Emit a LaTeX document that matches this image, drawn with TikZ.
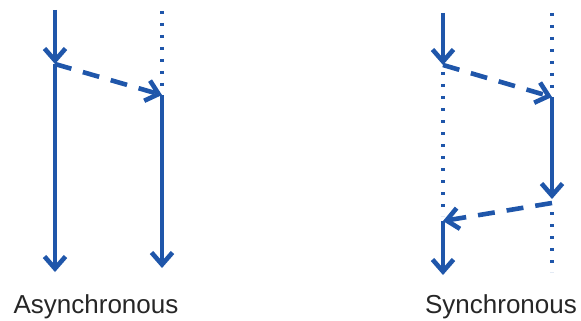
\documentclass[tikz,border=0pt]{standalone}
\usepackage{fontspec}
\setmainfont{Liberation Sans}
\usetikzlibrary{arrows.meta}
\definecolor{flowblue}{RGB}{31,86,170}
\tikzset{
  msgtip/.style={-{Straight Barb[length=12pt,width=21pt,line width=4.6pt]}},
  solidflow/.style={flowblue, line width=4.6pt, msgtip},
  dashflow/.style={flowblue, line width=4.6pt, dash pattern=on 17pt off 12pt, msgtip},
  idleline/.style={flowblue, line width=3.2pt, dash pattern=on 3.2pt off 8.8pt},
  label/.style={anchor=base, font=\fontsize{26}{30}\selectfont, text=black!85}
}
\begin{document}
\begin{tikzpicture}[x=1pt,y=-1pt]
  \useasboundingbox (0,0) rectangle (581,321);

  % Asynchronous: caller keeps running after sending
  \coordinate (a0) at (55,10);
  \coordinate (a1) at (55,64);
  \coordinate (a2) at (55,272);
  \coordinate (b0) at (162,11);
  \coordinate (bi) at (162,86);
  \coordinate (b1) at (162,95);
  \coordinate (b2) at (162,268);

  \draw[solidflow] (a0) -- (a1);
  \draw[solidflow] (a1) -- (a2);
  \draw[dashflow] (a1) -- (b1);
  \draw[idleline] (b0) -- (bi);
  \draw[solidflow] (b1) -- (b2);

  % Synchronous: caller waits for the reply
  \coordinate (c0) at (443,13);
  \coordinate (c1) at (443,65);
  \coordinate (ci) at (443,72);
  \coordinate (cj) at (443,216);
  \coordinate (c2) at (443,221);
  \coordinate (c3) at (443,275);
  \coordinate (d0) at (552,13);
  \coordinate (di) at (552,88);
  \coordinate (d1) at (552,97);
  \coordinate (d2) at (552,199);
  \coordinate (d3) at (552,203);
  \coordinate (dj) at (552,212);
  \coordinate (dk) at (552,272);

  \draw[solidflow] (c0) -- (c1);
  \draw[idleline] (ci) -- (cj);
  \draw[dashflow] (c1) -- (d1);
  \draw[idleline] (d0) -- (di);
  \draw[solidflow] (d1) -- (d2);
  \draw[dashflow] (d3) -- (c2);
  \draw[solidflow] (c2) -- (c3);
  \draw[idleline] (dj) -- (dk);

  \node[label] (asynclabel) at (96,313) {Asynchronous};
  \node[label] (synclabel) at (501,313) {Synchronous};
\end{tikzpicture}
\end{document}
